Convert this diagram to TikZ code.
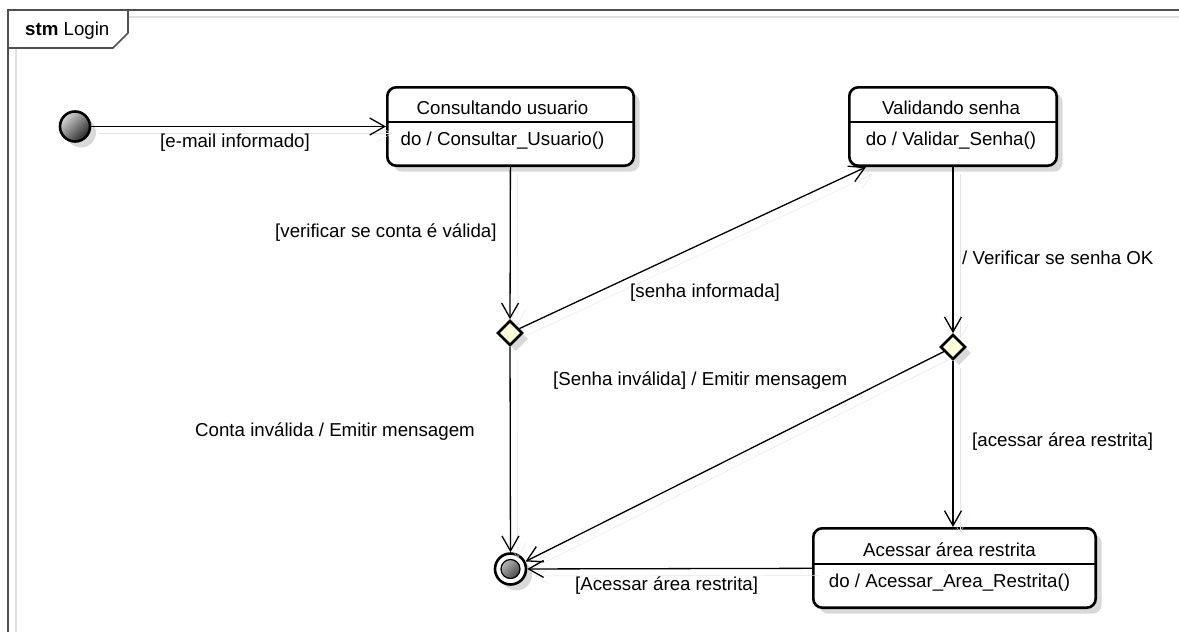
\documentclass[tikz,border=0pt]{standalone}
\usepackage{fontspec}
\setmainfont{Liberation Sans}
\usetikzlibrary{arrows.meta,shapes.geometric,shadows}
\definecolor{choicefill}{HTML}{FFFFDD}
\definecolor{framegray}{HTML}{505050}
\tikzset{
  boxshadow/.style={drop shadow={shadow xshift=6pt, shadow yshift=-6pt, fill=black!15, opacity=1}},
  statebox/.style={draw, line width=2.6pt, rounded corners=9pt, fill=white, inner sep=0pt, boxshadow},
  choice/.style={diamond, draw, line width=2.6pt, fill=choicefill, inner sep=0pt, minimum size=25pt, boxshadow},
  startstate/.style={circle, draw, line width=2.6pt, inner sep=0pt, minimum size=30pt,
    top color=black!15, bottom color=black!85, shading angle=45, boxshadow},
  endstate/.style={circle, draw, line width=2.6pt, fill=white, inner sep=0pt, minimum size=31pt, boxshadow,
    path picture={\draw[line width=1.2pt, top color=black!15, bottom color=black!85, shading angle=45]
      (path picture bounding box.center) circle (9.5pt);}},
  trans/.style={line width=1.3pt, -{Straight Barb[length=15pt,width=17pt]},
    preaction={draw=black!10, transform canvas={xshift=7pt,yshift=-7pt}}},
  divider/.style={line width=1.1pt},
  txt/.style={inner sep=0pt},
  lbl/.style={inner sep=0pt, anchor=west},
}
\begin{document}
\begin{tikzpicture}[x=1pt,y=-1pt,font=\fontsize{18.7}{22}\selectfont]
  \useasboundingbox (0,0) rectangle (1179,632);
  % frame and tab
  \draw[black!12, line width=1.2pt] (128,17) -- (1179,17);
  \draw[black!12, line width=1.2pt] (16,48) -- (16,632);
  \draw[framegray, line width=1.6pt] (1179,10) -- (8,10) -- (8,632);
  \draw[framegray, line width=1.6pt] (8,48) -- (113,48) -- (128,33) -- (128,10);
  \node[lbl] (tab) at (25,31) {\textbf{stm} Login};

  % states
  \node[startstate] (init) at (75,126.5) {};
  \node[statebox, minimum width=246.4pt, minimum height=78.4pt] (cons) at (510.5,126.5) {};
  \draw[divider] ([yshift=-36pt]cons.north west) -- ([yshift=-36pt]cons.north east);
  \node[txt] (consT) at ([xshift=-8pt,yshift=-21.5pt]cons.north) {Consultando usuario};
  \node[txt] (consD) at ([xshift=-8pt,yshift=26pt]cons.south) {do / Consultar\_Usuario()};

  \node[statebox, minimum width=207.4pt, minimum height=78.4pt] (val) at (953,126.5) {};
  \draw[divider] ([yshift=-36pt]val.north west) -- ([yshift=-36pt]val.north east);
  \node[txt] (valT) at ([xshift=-2pt,yshift=-21.5pt]val.north) {Validando senha};
  \node[txt] (valD) at ([xshift=-2pt,yshift=26pt]val.south) {do / Validar\_Senha()};

  \node[statebox, minimum width=282.4pt, minimum height=79.4pt] (acc) at (954.5,568) {};
  \draw[divider] ([yshift=-37pt]acc.north west) -- ([yshift=-37pt]acc.north east);
  \node[txt] (accT) at ([xshift=-5pt,yshift=-22.5pt]acc.north) {Acessar área restrita};
  \node[txt] (accD) at ([xshift=-5pt,yshift=26pt]acc.south) {do / Acessar\_Area\_Restrita()};

  \node[choice] (dec1) at (510,333) {};
  \node[choice] (dec2) at (953,347) {};
  \node[endstate] (fin) at (510.5,569) {};

  % transitions
  \draw[trans] (init) -- (cons);
  \draw[trans] (cons) -- (dec1);
  \draw[trans] (dec1) -- ([xshift=18pt]val.south west);
  \draw[trans] (val) -- (dec2);
  \draw[trans] (dec2) -- (fin);
  \draw[trans] (dec1) -- (fin);
  \draw[trans] (dec2) -- (dec2 |- acc.north);
  \draw[trans] (acc) -- (fin);

  % labels
  \node[lbl] (lEmail) at (160,143) {[e-mail informado]};
  \node[lbl] (lConta) at (275,233) {[verificar se conta é válida]};
  \node[lbl] (lSenha) at (630,293) {[senha informada]};
  \node[lbl] (lOk) at (962,258) {/ Verificar se senha OK};
  \node[lbl] (lInval) at (553,381) {[Senha inválida] / Emitir mensagem};
  \node[lbl] (lContaInv) at (195,432) {Conta inválida / Emitir mensagem};
  \node[lbl] (lArea) at (972,442) {[acessar área restrita]};
  \node[lbl] (lAreaFim) at (575,586) {[Acessar área restrita]};
\end{tikzpicture}
\end{document}
